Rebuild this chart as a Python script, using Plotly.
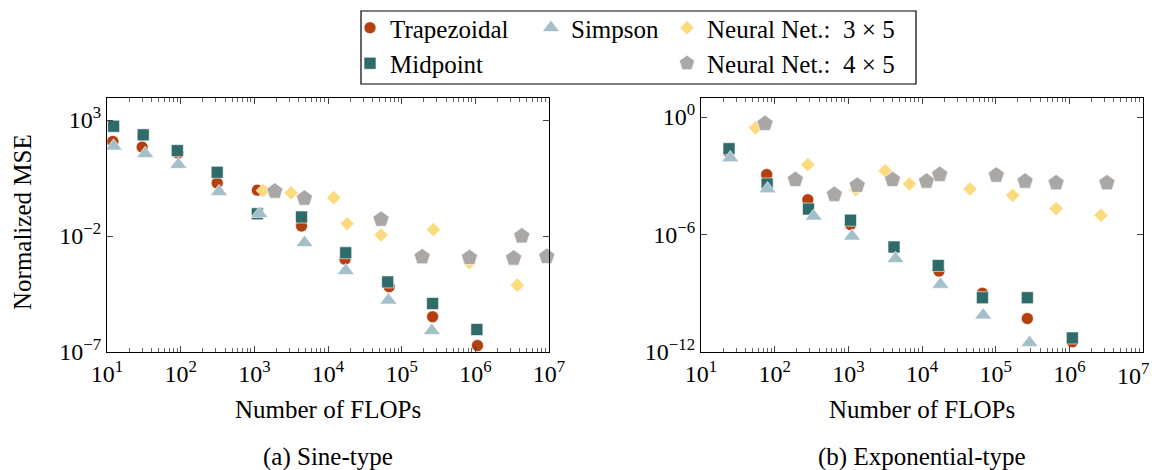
import plotly.graph_objects as go

# ---------------- data ----------------
# (a) Sine-type
sine_trap_x = [12, 30, 92, 313, 1100, 4370, 17000, 67600, 263000, 1070000]
sine_trap_y = [120, 68, 38, 1.95, 0.95, 0.027, 1.0e-3, 6.5e-5, 3.3e-6, 1.9e-7]
sine_mid_x = [12.3, 31, 90, 313, 1100, 4370, 17400, 64600, 263000, 1050000]
sine_mid_y = [540, 230, 48, 5.6, 0.091, 0.066, 1.9e-3, 1.05e-4, 1.23e-5, 9.3e-7]
sine_simp_x = [12.3, 33, 93, 331, 1175, 4790, 17400, 66100, 257000]
sine_simp_y = [74, 35, 12, 0.81, 0.091, 5.1e-3, 3.2e-4, 1.7e-5, 8.3e-7]
sine_nn3_x = [1320, 3160, 12000, 18200, 52500, 269000, 832000, 3720000]
sine_nn3_y = [0.91, 0.72, 0.45, 0.034, 0.011, 0.019, 7.1e-4, 7.6e-5]
sine_nn4_x = [1900, 4790, 52500, 190000, 832000, 3310000, 4270000, 9330000]
sine_nn4_y = [0.85, 0.42, 0.052, 1.26e-3, 1.17e-3, 1.1e-3, 0.01, 1.3e-3]

# (b) Exponential-type
exp_trap_x = [24, 78, 282, 1070, 4170, 17000, 66100, 269000, 1100000]
exp_trap_y = [1.6e-2, 1.15e-3, 5.9e-5, 3.2e-6, 2.1e-7, 1.35e-8, 1.0e-9, 5.1e-11, 3.3e-12]
exp_mid_x = [24, 79, 288, 1070, 4170, 16600, 66100, 269000, 1100000]
exp_mid_y = [2.4e-2, 3.8e-4, 2.0e-5, 5.4e-6, 2.3e-7, 2.6e-8, 5.9e-10, 5.9e-10, 5.2e-12]
exp_simp_x = [25, 80, 339, 1120, 4370, 17800, 67600, 288000]
exp_simp_y = [8.1e-3, 2.1e-4, 8.5e-6, 8.1e-7, 5.8e-8, 2.8e-9, 7.6e-11, 3.0e-12]
exp_nn3_x = [55, 282, 1260, 3160, 6760, 16600, 44700, 170000, 661000, 2690000]
exp_nn3_y = [0.28, 3.7e-3, 1.95e-4, 1.8e-3, 3.8e-4, 1.15e-3, 2.1e-4, 1.0e-4, 2.1e-5, 9.5e-6]
exp_nn4_x = [74, 191, 646, 1320, 3980, 11500, 17400, 102000, 251000, 661000, 3240000]
exp_nn4_y = [0.46, 6.3e-4, 1.1e-4, 3.2e-4, 6.3e-4, 5.2e-4, 1.15e-3, 1.05e-3, 5.2e-4, 4.3e-4, 4.3e-4]

series_names = ["Trapezoidal", "Midpoint", "Simpson",
                "Neural Net.:  3 \u00d7 5", "Neural Net.:  4 \u00d7 5"]

x_tick_exps = [1, 2, 3, 4, 5, 6, 7]
sine_y_tick_exps = [-7, -2, 3]
exp_y_tick_exps = [-12, -6, 0]
x_title = "Number of FLOPs"
y_title = "Normalized MSE"
captions = ["(a) Sine-type", "(b) Exponential-type"]

# ---------------- styling ----------------
OFF = 8                      # page body margin of the browser
W, H = 1159, 470
FONT = "Liberation Serif"
FS = 25
TFS = 24
colors = ["#B5400F", "#2F6B69", "#A3BFC9", "#FCDB7E", "#ABA7A5"]
symbols = ["circle", "square", "triangle-up", "diamond", "pentagon"]
sizes = [12, 12, 15, 11, 17]
legend_ids = ["legend", "legend", "legend2", "legend3", "legend3"]

fig = go.Figure()

panels = [
    ("x", "y", [(sine_trap_x, sine_trap_y), (sine_mid_x, sine_mid_y), (sine_simp_x, sine_simp_y),
                (sine_nn3_x, sine_nn3_y), (sine_nn4_x, sine_nn4_y)]),
    ("x2", "y2", [(exp_trap_x, exp_trap_y), (exp_mid_x, exp_mid_y), (exp_simp_x, exp_simp_y),
                  (exp_nn3_x, exp_nn3_y), (exp_nn4_x, exp_nn4_y)]),
]

for pi, (xa, ya, data) in enumerate(panels):
    for i, (xs, ys) in enumerate(data):
        fig.add_trace(go.Scatter(
            x=xs, y=ys, mode="markers", xaxis=xa, yaxis=ya,
            name=series_names[i], showlegend=(pi == 0),
            legend=legend_ids[i], legendgroup=series_names[i],
            cliponaxis=(i != 4),
            marker=dict(symbol=symbols[i], size=sizes[i], color=colors[i],
                        line=dict(color="white", width=0.6)),
        ))

# convert screen pixel positions to paper fractions
def px_x(p):
    return (p - OFF) / W

def px_y(p):
    return 1 - (p - OFF) / H

minor_vals = [m * 10 ** e for e in range(1, 7) for m in range(2, 10)]

def xaxis_cfg(dom, anchor, last_label=True):
    texts = [f"10<sup>{e}</sup>" for e in x_tick_exps]
    if not last_label:
        texts[-1] = ""
    return dict(
        type="log", range=[1, 7], domain=dom, anchor=anchor, automargin=False,
        tickmode="array", tickvals=[10 ** e for e in x_tick_exps],
        ticktext=texts,
        ticklabeloverflow="allow",
        ticks="inside", ticklen=6, tickcolor="#444", tickwidth=1,
        minor=dict(ticks="inside", ticklen=3.5, tickcolor="#666", tickwidth=1,
                   tickmode="array", tickvals=minor_vals, showgrid=False),
        showline=True, linecolor="black", linewidth=1.2, mirror="allticks",
        showgrid=False, zeroline=False,
        tickfont=dict(family=FONT, size=TFS, color="black"),
    )

def yaxis_cfg(rng, exps, anchor):
    return dict(
        type="log", range=rng, domain=[px_y(352), px_y(98)], anchor=anchor, automargin=False,
        tickmode="array", tickvals=[10.0 ** e for e in exps],
        ticktext=[f"10<sup>{e}</sup>".replace("-", "\u2212") for e in exps],
        ticklabeloverflow="allow",
        ticks="inside", ticklen=6, tickcolor="#444", tickwidth=1,
        showline=True, linecolor="black", linewidth=1.2, mirror="allticks",
        showgrid=False, zeroline=False,
        tickfont=dict(family=FONT, size=TFS, color="black"),
    )

leg_common = dict(bgcolor="rgba(0,0,0,0)", borderwidth=0,
                  font=dict(family=FONT, size=FS, color="black"),
                  orientation="v", xanchor="left", yanchor="top",
                  tracegroupgap=0, itemwidth=30)

fig.update_layout(
    width=W, height=H,
    margin=dict(l=0, r=0, t=0, b=0, autoexpand=False),
    paper_bgcolor="white", plot_bgcolor="white",
    font=dict(family=FONT, size=FS, color="black"),
    xaxis=xaxis_cfg([px_x(107), px_x(549)], "y"),
    xaxis2=xaxis_cfg([px_x(701), px_x(1143)], "y2", last_label=False),
    yaxis=yaxis_cfg([-7, 3.95], sine_y_tick_exps, "x"),
    yaxis2=yaxis_cfg([-12, 0.97], exp_y_tick_exps, "x2"),
    legend=dict(x=px_x(350), y=px_y(5), **leg_common),
    legend2=dict(x=px_x(531), y=px_y(5), **leg_common),
    legend3=dict(x=px_x(667), y=px_y(5), **leg_common),
    showlegend=True,
    shapes=[dict(type="rect", xref="paper", yref="paper",
                 x0=px_x(361), x1=px_x(916), y0=px_y(84), y1=px_y(11),
                 line=dict(color="black", width=1.2), fillcolor="rgba(0,0,0,0)")],
)

ann = []
for cx in (328, 922):
    ann.append(dict(text=x_title, x=px_x(cx), y=px_y(409), xref="paper", yref="paper",
                    showarrow=False, xanchor="center", yanchor="middle",
                    font=dict(family=FONT, size=FS, color="black")))
for cx, cap in zip((328, 922), captions):
    ann.append(dict(text=cap, x=px_x(cx), y=px_y(457), xref="paper", yref="paper",
                    showarrow=False, xanchor="center", yanchor="middle",
                    font=dict(family=FONT, size=FS, color="black")))
ann.append(dict(text=y_title, x=px_x(22), y=px_y(222), xref="paper", yref="paper",
                showarrow=False, textangle=-90, xanchor="center", yanchor="middle",
                font=dict(family=FONT, size=FS, color="black")))
# last tick label of the right panel, kept inside the visible page edge
ann.append(dict(text=f"10<sup>{x_tick_exps[-1]}</sup>", x=px_x(1150), y=px_y(374),
                xref="paper", yref="paper", showarrow=False,
                xanchor="right", yanchor="middle", borderpad=0,
                font=dict(family=FONT, size=TFS, color="black")))
fig.update_layout(annotations=ann)

fig.write_html("out.html")
